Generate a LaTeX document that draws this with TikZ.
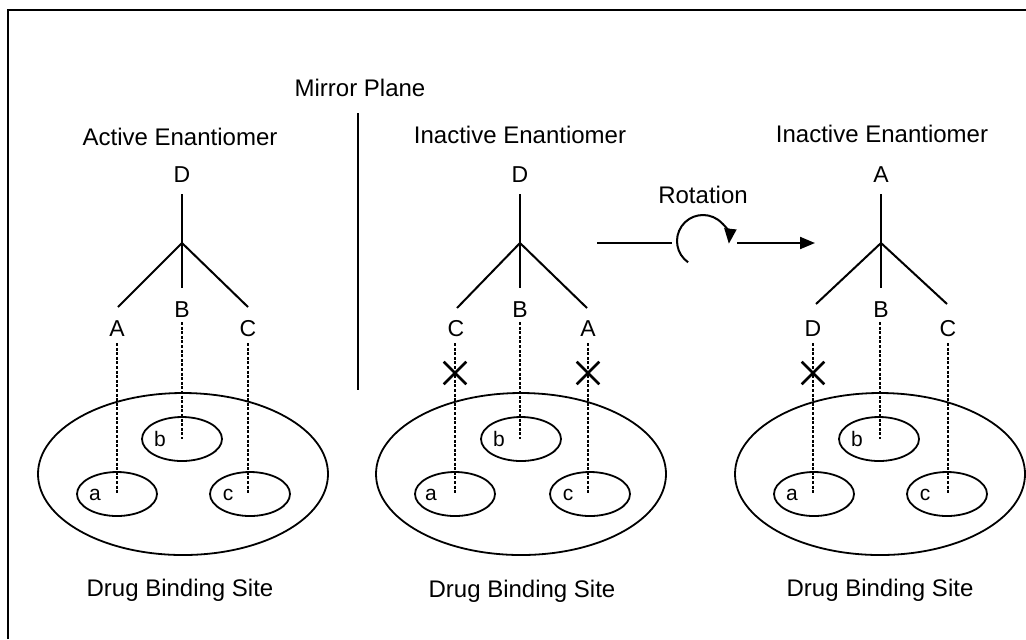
\documentclass[tikz,border=0pt]{standalone}
\usepackage{fontspec}
\setmainfont{Liberation Sans}
\usetikzlibrary{shapes.geometric,shapes.misc,arrows.meta}
\begin{document}
\begin{tikzpicture}[x=0.5pt,y=-0.5pt,
 title/.style={font=\fontsize{12}{14}\selectfont, inner sep=0pt, anchor=base},
 letter/.style={font=\fontsize{11.5}{13}\selectfont, inner sep=0pt, anchor=base},
 site/.style={ellipse, draw, line width=0.9pt, inner sep=0pt, minimum width=40pt, minimum height=22pt},
 bigsite/.style={ellipse, draw, line width=0.9pt, inner sep=0pt, minimum width=145pt, minimum height=81pt},
 sitelbl/.style={font=\fontsize{10.5}{12}\selectfont, inner sep=0pt, anchor=base},
 bond/.style={line width=1pt},
 heavybond/.style={line width=1.4pt},
 link/.style={line width=0.8pt, dash pattern=on 1.5pt off 0.8pt},
 nobind/.style={draw, cross out, line width=1.3pt, minimum size=10pt, inner sep=0pt},
 head/.style={-{Triangle[length=7.5pt,width=6pt]}},
]
\fill[white] (0,0) rectangle (1026,639);
\useasboundingbox (0,0) rectangle (1026,639);
% frame (cropped on right and bottom)
\coordinate (fbl) at (8,639);
\coordinate (ftl) at (8,10);
\coordinate (ftr) at (1026,10);
\draw[line width=1.2pt] (fbl) -- (ftl) -- (ftr);

% mirror plane
\node[title] (mp) at (360,96) {Mirror Plane};
\coordinate (mpt) at (358,113);
\coordinate (mpb) at (358,390);
\draw[bond] (mpt) -- (mpb);

% ---------------- Panel 1 ----------------
\node[title] (t1) at (180,145) {Active Enantiomer};
\node[letter] (p1D) at (182,182) {D};
\coordinate (p1top) at (182,194);
\coordinate (p1c) at (182,243);
\coordinate (p1Bb) at (182,288);
\coordinate (p1Lb) at (118,307);
\coordinate (p1Rb) at (248,307);
\draw[bond] (p1top) -- (p1c) -- (p1Bb);
\draw[bond] (p1Lb) -- (p1c) -- (p1Rb);
\node[letter] (p1A) at (117,336) {A};
\node[letter] (p1B) at (182,317) {B};
\node[letter] (p1C) at (248,336) {C};
\node[bigsite] (s1) at (183,474) {};
\node[site] (s1b) at (182,439) {};
\node[site] (s1a) at (117,494) {};
\node[site] (s1c) at (250,494) {};
\node[sitelbl] (l1a) at (95,500) {a};
\node[sitelbl] (l1b) at (160,446) {b};
\node[sitelbl] (l1c) at (228,500) {c};
\coordinate (p1Ae) at (117,343);
\coordinate (p1Be) at (182,322);
\coordinate (p1Ce) at (248,343);
\draw[link] (p1Ae) -- (p1Ae |- s1a.center);
\draw[link] (p1Be) -- (p1Be |- s1b.center);
\draw[link] (p1Ce) -- (p1Ce |- s1c.center);
\node[title] (d1) at (180,596) {Drug Binding Site};

% ---------------- Panel 2 ----------------
\node[title] (t2) at (520,143) {Inactive Enantiomer};
\node[letter] (p2D) at (520,182) {D};
\coordinate (p2top) at (520,194);
\coordinate (p2c) at (520,243);
\coordinate (p2Bb) at (520,288);
\coordinate (p2Lb) at (457,308);
\coordinate (p2Rb) at (587,308);
\draw[bond] (p2top) -- (p2c) -- (p2Bb);
\draw[bond] (p2Lb) -- (p2c) -- (p2Rb);
\node[letter] (p2C) at (456,336) {C};
\node[letter] (p2B) at (520,317) {B};
\node[letter] (p2A) at (588,336) {A};
\node[bigsite] (s2) at (521,474) {};
\node[site] (s2b) at (521,439) {};
\node[site] (s2a) at (455,494) {};
\node[site] (s2c) at (590,494) {};
\node[sitelbl] (l2a) at (431,500) {a};
\node[sitelbl] (l2b) at (499,446) {b};
\node[sitelbl] (l2c) at (568,500) {c};
\coordinate (p2Ce) at (455,343);
\coordinate (p2Be) at (520,322);
\coordinate (p2Ae) at (588,343);
\draw[link] (p2Ce) -- (p2Ce |- s2a.center);
\draw[link] (p2Be) -- (p2Be |- s2b.center);
\draw[link] (p2Ae) -- (p2Ae |- s2c.center);
\node[nobind] (x2a) at (455,373) {};
\node[nobind] (x2b) at (588,373) {};
\node[title] (d2) at (522,597) {Drug Binding Site};

% ---------------- Rotation ----------------
\node[title] (rot) at (703,203) {Rotation};
\coordinate (rl1) at (597,243);
\coordinate (rl2) at (672,243);
\draw[bond] (rl1) -- (rl2);
\coordinate (rc) at (703,241);
\draw[bond, head] ([shift={(125:26)}]rc) arc[start angle=125, end angle=366, radius=26];
\coordinate (ra1) at (737,243);
\coordinate (ra2) at (815,243);
\draw[bond, head] (ra1) -- (ra2);

% ---------------- Panel 3 ----------------
\node[title] (t3) at (882,142) {Inactive Enantiomer};
\node[letter] (p3A) at (881,182) {A};
\coordinate (p3top) at (881,194);
\coordinate (p3c) at (881,243);
\coordinate (p3Bb) at (881,288);
\coordinate (p3Lb) at (816,304);
\coordinate (p3Rb) at (947,304);
\draw[heavybond] (p3top) -- (p3c) -- (p3Bb);
\draw[bond] (p3Lb) -- (p3c) -- (p3Rb);
\node[letter] (p3D) at (813,336) {D};
\node[letter] (p3B) at (881,317) {B};
\node[letter] (p3C) at (948,336) {C};
\node[bigsite] (s3) at (880,474) {};
\node[site] (s3b) at (879,439) {};
\node[site] (s3a) at (814,494) {};
\node[site] (s3c) at (947,494) {};
\node[sitelbl] (l3a) at (792,500) {a};
\node[sitelbl] (l3b) at (857,446) {b};
\node[sitelbl] (l3c) at (925,500) {c};
\coordinate (p3De) at (813,343);
\coordinate (p3Be) at (880,322);
\coordinate (p3Ce) at (948,343);
\draw[link] (p3De) -- (p3De |- s3a.center);
\draw[link] (p3Be) -- (p3Be |- s3b.center);
\draw[link] (p3Ce) -- (p3Ce |- s3c.center);
\node[nobind] (x3a) at (813,373) {};
\node[title] (d3) at (880,596) {Drug Binding Site};
\end{tikzpicture}
\end{document}
